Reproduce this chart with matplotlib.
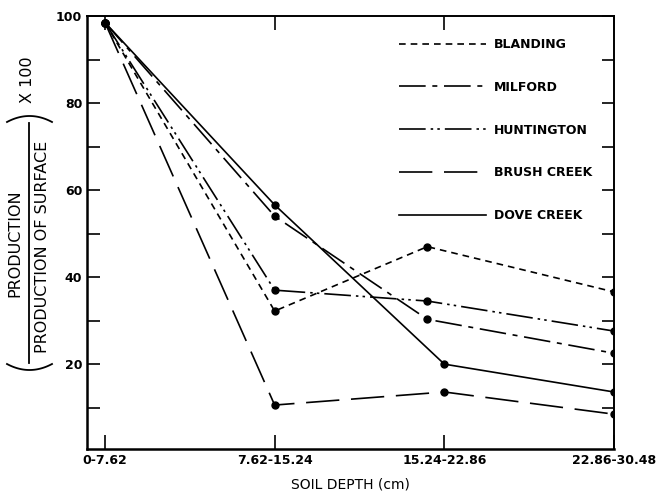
import matplotlib.pyplot as plt
from matplotlib.lines import Line2D
import numpy as np

depth_labels = ["0-7.62", "7.62-15.24", "15.24-22.86", "22.86-30.48"]

# x positions per site (hand drawn original, some middle points sit a bit early)
blanding_x = [0, 1, 1.9, 3]
blanding_y = [98.5, 32.2, 47.0, 36.6]
milford_x = [0, 1, 1.9, 3]
milford_y = [98.5, 54.0, 30.3, 22.5]
huntington_x = [0, 1, 1.9, 3]
huntington_y = [98.5, 37.0, 34.5, 27.6]
brush_x = [0, 1, 2, 3]
brush_y = [98.5, 10.6, 13.6, 8.5]
dove_x = [0, 1, 2, 3]
dove_y = [98.5, 56.6, 20.0, 13.6]

plt.rcParams['font.family'] = 'DejaVu Sans'

W, H = 668, 493
fig = plt.figure(figsize=(W / 100, H / 100), dpi=100)
ax = fig.add_axes([87 / W, 1 - 449 / H, (614 - 87) / W, (449 - 16) / H])

mk = dict(marker='o', markersize=5, color='black', lw=1.2)
ax.plot(blanding_x, blanding_y, linestyle=(0, (4, 3)), label='BLANDING', **mk)
ax.plot(milford_x, milford_y, linestyle=(0, (16, 4, 3, 4)), label='MILFORD', **mk)
ax.plot(huntington_x, huntington_y, linestyle=(0, (16, 3, 1.5, 2.5, 1.5, 3)), label='HUNTINGTON', **mk)
ax.plot(brush_x, brush_y, linestyle=(0, (20, 7)), label='BRUSH CREEK', **mk)
ax.plot(dove_x, dove_y, linestyle='-', label='DOVE CREEK', **mk)

ax.set_xlim(-0.106, 3.0)
ax.set_ylim(0.5, 100)
ax.set_xticks(range(len(depth_labels)))
ax.set_xticklabels(depth_labels, fontsize=9, fontweight='bold')
ax.set_yticks([20, 40, 60, 80, 100])
ax.set_yticklabels(['20', '40', '60', '80', '100'], fontsize=9, fontweight='bold')
ax.set_yticks([10, 30, 50, 70, 90], minor=True)
ax.tick_params(axis='y', which='both', direction='in', length=9, width=1.2, right=True)
ax.tick_params(axis='x', direction='in', length=10, width=1.2, top=True)
for side in ['left', 'bottom']:
    ax.spines[side].set_linewidth(1.8)
for side in ['top', 'right']:
    ax.spines[side].set_linewidth(1.4)

ax.set_xlabel("SOIL DEPTH (cm)", fontsize=10, labelpad=8)

# y label: (PRODUCTION / PRODUCTION OF SURFACE) X 100, drawn by hand
def fx(px):
    return px / W

def fy(py):
    return 1 - py / H

fig.text(fx(15), fy(243), "PRODUCTION", rotation=90, fontsize=11.5,
         ha='center', va='center')
fig.text(fx(43), fy(247), "PRODUCTION OF SURFACE", rotation=90, fontsize=11.5,
         ha='center', va='center')
fig.add_artist(Line2D([fx(29), fx(29)], [fy(123), fy(363)], color='black',
                      lw=1.3, transform=fig.transFigure))
fig.text(fx(28), fy(80), "X 100", rotation=90, fontsize=11.5,
         ha='center', va='center')
t = np.linspace(-1, 1, 40)
px = 29.5 + 22.5 * t
fig.add_artist(Line2D(fx(px), fy(116 + 6 * t ** 2), color='black', lw=1.3,
                      transform=fig.transFigure))
fig.add_artist(Line2D(fx(px), fy(370 - 6 * t ** 2), color='black', lw=1.3,
                      transform=fig.transFigure))

leg = ax.legend(loc='upper left', bbox_to_anchor=(0.57, 0.975), frameon=False,
                handlelength=7, labelspacing=2.38, fontsize=9, handletextpad=0.6,
                markerscale=0, prop={'weight': 'bold', 'size': 9})

fig.savefig("out.png", dpi=100)
